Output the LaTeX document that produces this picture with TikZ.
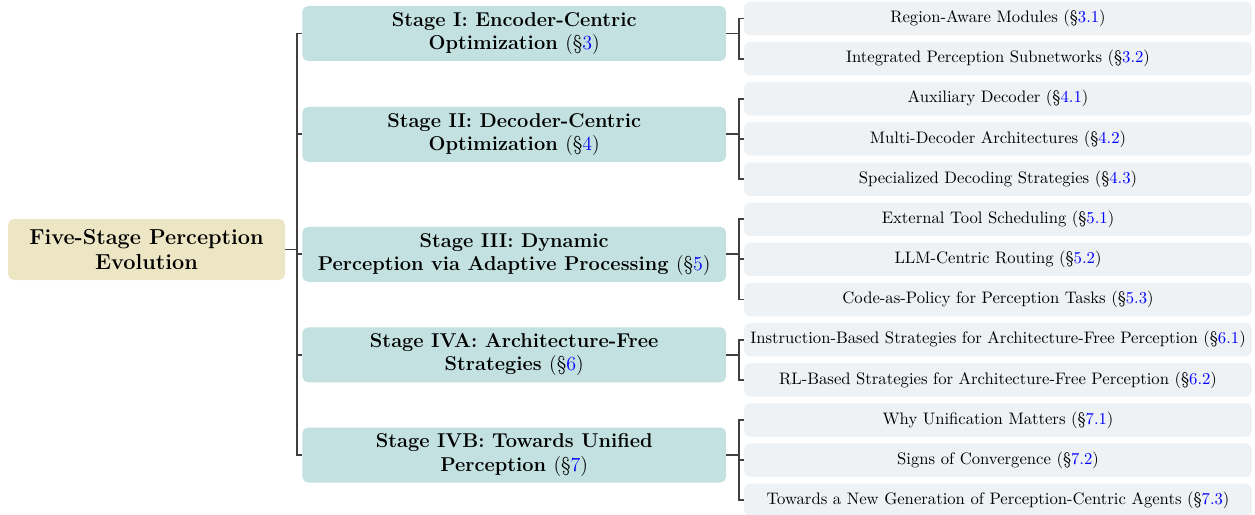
\documentclass[tikz,border=0pt]{standalone}
\usepackage{xcolor}

\definecolor{rootbg}{HTML}{EDE6C5}
\definecolor{stagebg}{HTML}{C2E1E0}
\definecolor{leafbg}{HTML}{EFF2F5}
\newcommand{\secref}[1]{{\mdseries(\S\textcolor{blue}{#1})}}

\begin{document}
\begin{tikzpicture}[x=0.6pt,y=-0.6pt,
    rootbox/.style={fill=rootbg,rounded corners=3.4pt,minimum width=166.2pt,minimum height=36.6pt,inner sep=0pt,align=center,font=\fontsize{13}{15.2}\selectfont\bfseries},
    stagebox/.style={fill=stagebg,rounded corners=3.4pt,minimum width=254.2pt,minimum height=33pt,inner sep=0pt,align=center,font=\large\bfseries},
    leafbox/.style={fill=leafbg,rounded corners=3.4pt,minimum width=304.8pt,minimum height=20.1pt,inner sep=0pt,align=center},
    link/.style={draw=black!75,line width=1.1pt}]
        \useasboundingbox (0,0) rectangle (1255,514);

        % Root
        \node[rootbox] (root) at (146.5,249.5) {Five-Stage Perception\\Evolution};

        % Stages
        \node[stagebox] (s1) at (514.2,33.5) {Stage I: Encoder-Centric\\Optimization \secref{3}};
        \node[stagebox] (s2) at (514.2,134.3) {Stage II: Decoder-Centric\\Optimization \secref{4}};
        \node[stagebox] (s3) at (514.2,254.3) {Stage III: Dynamic\\Perception via Adaptive Processing \secref{5}};
        \node[stagebox] (s4) at (514.2,354.8) {Stage IVA: Architecture-Free\\Strategies \secref{6}};
        \node[stagebox] (s5) at (514.2,455) {Stage IVB: Towards Unified\\Perception \secref{7}};

        % Leaves
        \node[leafbox] (l1) at (998,18.5) {Region-Aware Modules \secref{3.1}};
        \node[leafbox] (l2) at (998,58.65) {Integrated Perception Subnetworks \secref{3.2}};
        \node[leafbox] (l3) at (998,98.8) {Auxiliary Decoder \secref{4.1}};
        \node[leafbox] (l4) at (998,138.95) {Multi-Decoder Architectures \secref{4.2}};
        \node[leafbox] (l5) at (998,179.1) {Specialized Decoding Strategies \secref{4.3}};
        \node[leafbox] (l6) at (998,219.25) {External Tool Scheduling \secref{5.1}};
        \node[leafbox] (l7) at (998,259.4) {LLM-Centric Routing \secref{5.2}};
        \node[leafbox] (l8) at (998,299.55) {Code-as-Policy for Perception Tasks \secref{5.3}};
        \node[leafbox] (l9) at (998,339.7) {Instruction-Based Strategies for Architecture-Free Perception \secref{6.1}};
        \node[leafbox] (l10) at (998,379.85) {RL-Based Strategies for Architecture-Free Perception \secref{6.2}};
        \node[leafbox] (l11) at (998,420) {Why Unification Matters \secref{7.1}};
        \node[leafbox] (l12) at (998,460.15) {Signs of Convergence \secref{7.2}};
        \node[leafbox] (l13) at (998,500.3) {Towards a New Generation of Perception-Centric Agents \secref{7.3}};

        % Forks
        \coordinate (f0) at (297,249.5);
        \coordinate (f1) at (739,33.5);
        \coordinate (f2) at (739,134.3);
        \coordinate (f3) at (739,254.3);
        \coordinate (f4) at (739,354.8);
        \coordinate (f5) at (739,455);

        % Root to stages
        \foreach \s in {s1,s2,s3,s4,s5}
          \draw[link] (root.east) -- (f0) |- (\s.west);

        % Stages to leaves
        \foreach \l in {l1,l2} \draw[link] (s1.east) -- (f1) |- (\l.west);
        \foreach \l in {l3,l4,l5} \draw[link] (s2.east) -- (f2) |- (\l.west);
        \foreach \l in {l6,l7,l8} \draw[link] (s3.east) -- (f3) |- (\l.west);
        \foreach \l in {l9,l10} \draw[link] (s4.east) -- (f4) |- (\l.west);
        \foreach \l in {l11,l12,l13} \draw[link] (s5.east) -- (f5) |- (\l.west);
      \end{tikzpicture}
\end{document}
